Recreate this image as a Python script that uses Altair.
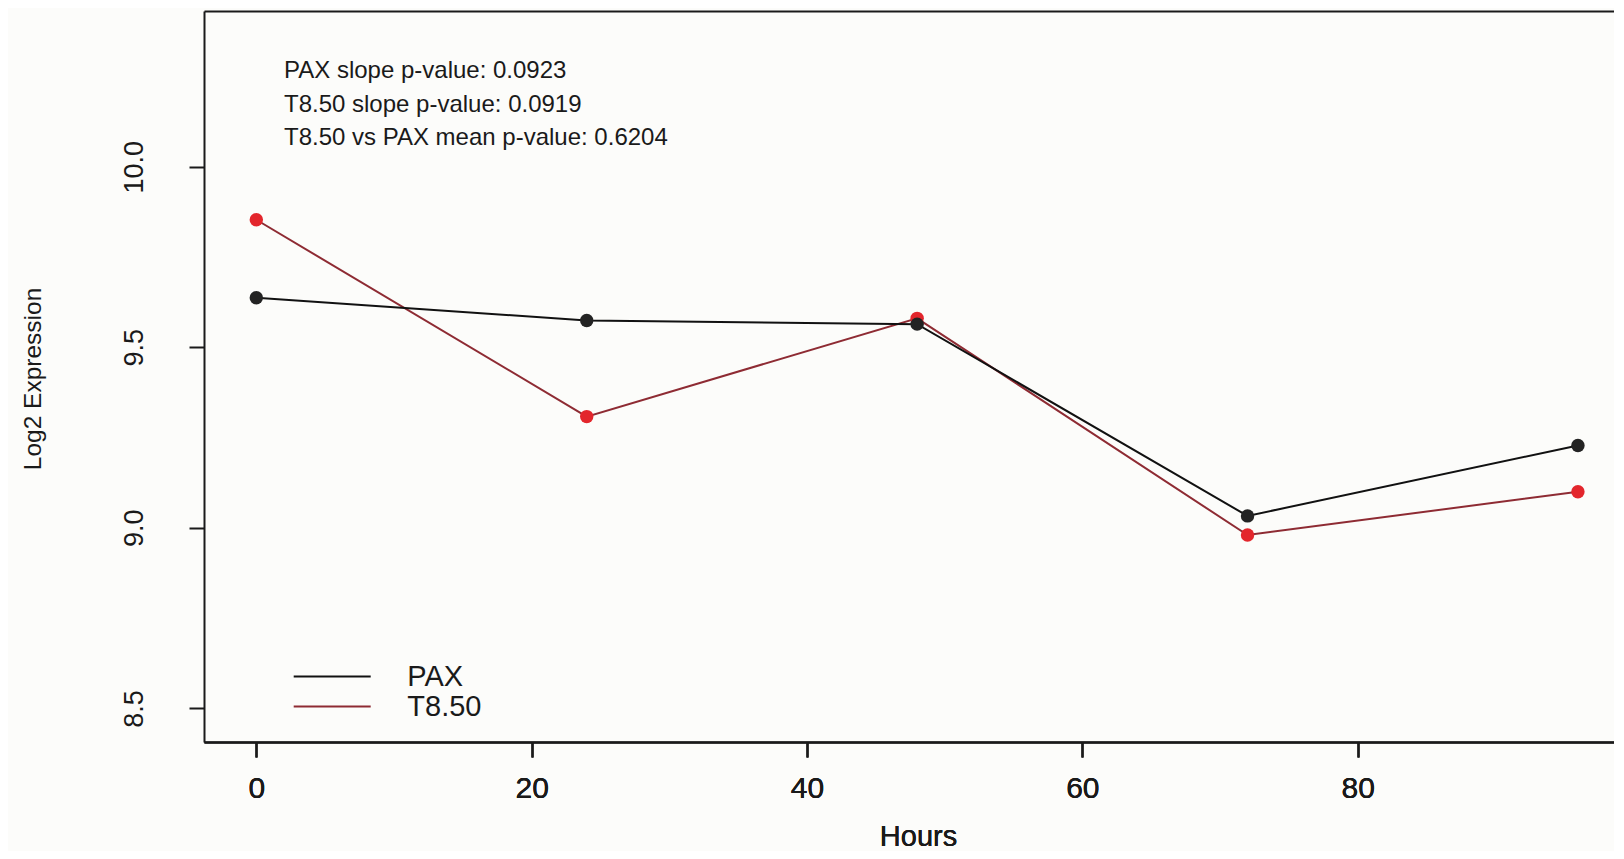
import altair as alt
import pandas as pd

# ---- data ----
hours = [0, 24, 48, 72, 96]
pax = [9.637, 9.574, 9.564, 9.033, 9.228]
t850 = [9.853, 9.308, 9.580, 8.980, 9.100]
series_names = ["PAX", "T8.50"]
annotations = [
    "PAX slope p-value: 0.0923",
    "T8.50 slope p-value: 0.0919",
    "T8.50 vs PAX mean p-value: 0.6204",
]
x_ticks = [0, 20, 40, 60, 80]
y_ticks = [8.5, 9.0, 9.5, 10.0]

rows = []
for name, vals in zip(series_names, [pax, t850]):
    for h, v in zip(hours, vals):
        rows.append({"series": name, "hours": h, "value": v})
df = pd.DataFrame(rows)

FONT = "Liberation Sans"
NARROW = "Liberation Sans Narrow, Liberation Sans"
INK = "#1a1a1a"

xscale = alt.Scale(domain=[-3.8, 98.62], nice=False, zero=False)
yscale = alt.Scale(domain=[8.407, 10.431], nice=False, zero=False)

x_axis_bottom = alt.Axis(
    orient="bottom", values=x_ticks, format="d", title="Hours", grid=False,
    tickSize=15, tickWidth=2, tickColor=INK, domainColor=INK, domainWidth=2,
    labelPadding=40, labelBaseline="alphabetic", labelFont=FONT, labelFontSize=30,
    labelColor=INK, labelFlush=False,
    titleFont=FONT, titleFontSize=29, titleFontWeight="normal", titleColor=INK,
    titleX=714, titleY=103.5, titleAlign="center", titleBaseline="alphabetic",
)
x_axis_top = alt.Axis(
    orient="top", labels=False, ticks=False, title=None, grid=False,
    domainColor=INK, domainWidth=2,
)
y_axis = alt.Axis(
    orient="left", values=y_ticks, format=".1f", title="Log2 Expression", grid=False,
    tickSize=15, tickWidth=2, tickColor=INK, domainColor=INK, domainWidth=2,
    labelPadding=47, labelAngle=270, labelAlign="center", labelBaseline="alphabetic",
    labelFont=NARROW, labelFontSize=27, labelColor=INK,
    titleFont=NARROW, titleFontSize=24.5, titleFontWeight="normal", titleColor=INK,
    titleAngle=270, titleX=-164, titleY=367.5, titleAlign="center",
    titleBaseline="alphabetic",
)

stroke_enc = alt.Stroke(
    "series:N",
    scale=alt.Scale(domain=series_names, range=["#111111", "#8e2b33"]),
    legend=alt.Legend(
        title=None, orient="none", legendX=88.7, legendY=652,
        symbolType="stroke", symbolSize=5929, symbolStrokeWidth=2,
        clipHeight=27, rowPadding=0, padding=0,
        labelFont=FONT, labelFontSize=29, labelColor=INK, labelOffset=35.6,
    ),
)
fill_enc = alt.Fill(
    "series:N",
    scale=alt.Scale(domain=series_names, range=["#232323", "#e3262c"]),
    legend=None,
)

base = alt.Chart(df)


def line_layer(name):
    return base.transform_filter(alt.datum.series == name).mark_line(strokeWidth=2).encode(
        x=alt.X("hours:Q", scale=xscale, axis=x_axis_bottom),
        y=alt.Y("value:Q", scale=yscale, axis=y_axis),
        stroke=stroke_enc,
    )


def point_layer(name, xaxis):
    return base.transform_filter(alt.datum.series == name).mark_circle(size=180, opacity=1).encode(
        x=alt.X("hours:Q", scale=xscale, axis=xaxis),
        y=alt.Y("value:Q", scale=yscale, axis=y_axis),
        fill=fill_enc,
    )


text_layer = alt.Chart(pd.DataFrame({"t": ["\n".join(annotations)]})).mark_text(
    font=FONT, fontSize=24, color=INK, align="left", baseline="alphabetic",
    lineBreak="\n", lineHeight=33.5,
).encode(x=alt.value(80), y=alt.value(67), text="t:N")

chart = alt.layer(
    line_layer("T8.50"),
    point_layer("T8.50", x_axis_bottom),
    line_layer("PAX"),
    point_layer("PAX", x_axis_top),
    text_layer,
).properties(
    width=1410, height=731,
    autosize=alt.AutoSizeParams(type="none"),
    padding={"left": 196, "top": 3, "right": 0, "bottom": 109},
    background="#fcfcfa",
).configure_view(stroke=None)

chart.save("out.html", embed_options={"renderer": "svg", "actions": False})
